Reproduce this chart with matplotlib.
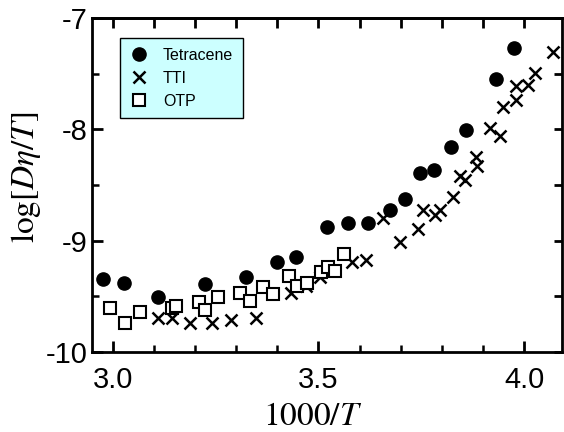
import numpy as np
import matplotlib.pyplot as plt
from matplotlib.ticker import MultipleLocator, FixedLocator, FuncFormatter

# log[D eta / T] against 1000/T for three glass formers
tetracene_x = [2.976, 3.027, 3.109, 3.224, 3.324, 3.400, 3.445, 3.520, 3.573,
               3.621, 3.674, 3.711, 3.746, 3.781, 3.821, 3.858, 3.932, 3.976]
tetracene_y = [-9.348, -9.376, -9.509, -9.390, -9.330, -9.190, -9.145, -8.876, -8.845,
               -8.845, -8.728, -8.624, -8.390, -8.363, -8.162, -8.006, -7.551, -7.270]

tti_x = [3.109, 3.143, 3.188, 3.242, 3.288, 3.348, 3.433, 3.470, 3.504, 3.581,
         3.616, 3.658, 3.699, 3.742, 3.755, 3.784, 3.796, 3.826, 3.844, 3.857,
         3.882, 3.886, 3.916, 3.942, 3.948, 3.981, 3.979, 4.010, 4.025, 4.070]
tti_y = [-9.698, -9.698, -9.740, -9.743, -9.713, -9.691, -9.468, -9.403, -9.330, -9.195,
         -9.174, -8.800, -9.010, -8.898, -8.725, -8.770, -8.721, -8.604, -8.415, -8.456,
         -8.246, -8.330, -7.991, -8.056, -7.800, -7.737, -7.608, -7.602, -7.491, -7.303]

otp_x = [2.993, 3.029, 3.066, 3.143, 3.155, 3.210, 3.224, 3.256, 3.310, 3.333,
         3.365, 3.390, 3.429, 3.447, 3.471, 3.505, 3.524, 3.540, 3.563]
otp_y = [-9.608, -9.743, -9.637, -9.608, -9.588, -9.552, -9.621, -9.509, -9.474, -9.545,
         -9.420, -9.482, -9.321, -9.408, -9.384, -9.282, -9.237, -9.269, -9.122]

plt.rcParams['font.family'] = ['Liberation Sans', 'DejaVu Sans']
plt.rcParams['mathtext.fontset'] = 'stix'
plt.rcParams['axes.unicode_minus'] = False

fig = plt.figure(figsize=(5.64, 4.32), dpi=100)
ax = fig.add_axes([0.1626, 0.1852, 0.834, 0.7731])

ax.plot(tetracene_x, tetracene_y, 'o', color='black', markersize=9.5, label='Tetracene')
ax.plot(tti_x, tti_y, 'x', color='black', markersize=9, markeredgewidth=1.8, label='TTI')
ax.plot(otp_x, otp_y, 's', markerfacecolor='white', markeredgecolor='black',
        markersize=8, markeredgewidth=1.5, label='OTP')

ax.set_xlim(2.949, 4.092)
ax.set_ylim(-10, -7)

ax.xaxis.set_major_locator(MultipleLocator(0.5))
ax.xaxis.set_minor_locator(MultipleLocator(0.1))
ax.yaxis.set_major_locator(MultipleLocator(1))
ax.yaxis.set_minor_locator(MultipleLocator(0.5))
ax.xaxis.set_major_formatter(FuncFormatter(lambda v, p: '%.1f' % v))
ax.yaxis.set_major_formatter(FuncFormatter(lambda v, p: '%d' % round(v)))

ax.tick_params(which='major', direction='in', length=8, width=2, labelsize=21)
ax.tick_params(which='minor', direction='in', length=5, width=1.8)
ax.tick_params(axis='x', which='major', pad=10)
ax.tick_params(axis='y', which='major', pad=3)

for s in ax.spines.values():
    s.set_linewidth(2)

# top edge: evenly sized ticks every 0.1, no labels
top = ax.secondary_xaxis('top')
top.xaxis.set_major_locator(FixedLocator(np.arange(3.0, 4.05, 0.1)))
top.tick_params(direction='in', length=7, width=2, labeltop=False)
top.spines['top'].set_linewidth(2)

# right edge: ticks every 0.5
right = ax.secondary_yaxis('right')
right.yaxis.set_major_locator(MultipleLocator(0.5))
right.tick_params(direction='in', length=6, width=2, labelright=False)

ax.set_xlabel(r'$1000/T$', fontsize=24)
ax.set_ylabel(r'$\log[D\eta/T]$', fontsize=24)
ax.xaxis.set_label_coords(0.4695, -0.147)
ax.yaxis.set_label_coords(-0.104, 0.522)

leg = ax.legend(loc='upper left', bbox_to_anchor=(0.06, 0.94), fontsize=11.5,
                frameon=True, fancybox=False, borderpad=0.6, labelspacing=0.5,
                handletextpad=0.9, handlelength=1.2, borderaxespad=0)
leg.get_frame().set_facecolor('#ccffff')
leg.get_frame().set_edgecolor('black')
leg.get_frame().set_linewidth(1)
leg.get_frame().set_alpha(1)

plt.savefig('out.png', dpi=100)
